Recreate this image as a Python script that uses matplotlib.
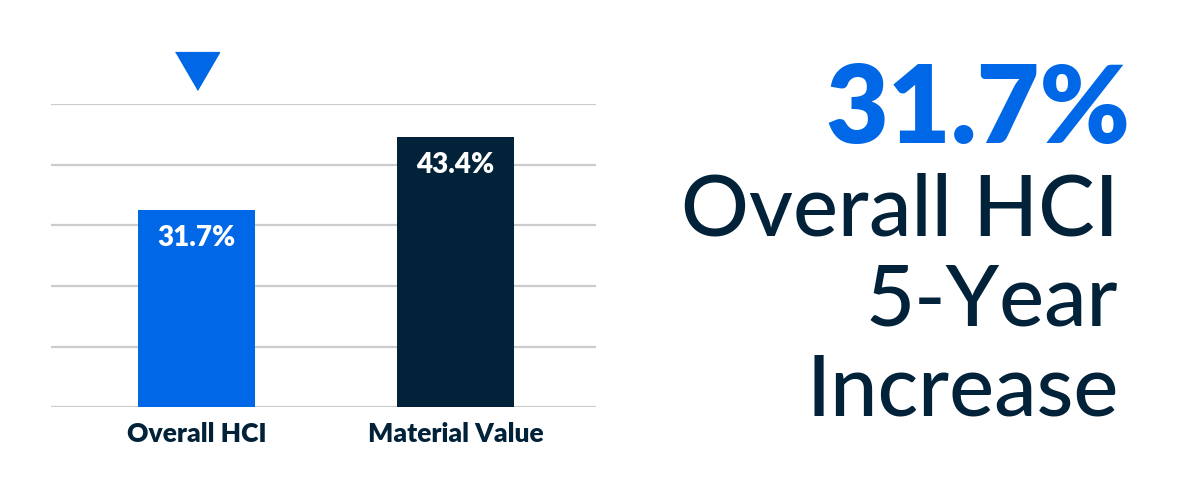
import matplotlib
matplotlib.use("Agg")
import matplotlib.pyplot as plt
import numpy as np

BLUE = "#0068E6"
NAVY = "#02223A"
GRID = "#CCCCCC"

categories = ["Overall HCI", "Material Value"]
values = [31.7, 43.4]
value_labels = ["31.7%", "43.4%"]
bar_colors = [BLUE, NAVY]

headline = "31.7%"
caption_lines = ["Overall HCI", "5-Year", "Increase"]

GRID_STEP = 9.75
N_GRID = 6

plt.rcParams["font.family"] = ["Lato", "DejaVu Sans"]

fig = plt.figure(figsize=(12, 5), dpi=100)
ax = fig.add_axes([0.0425, 0.1854, 0.454, 0.607])

x = np.arange(len(categories))
ax.bar(x, values, width=0.452, color=bar_colors, zorder=3)

ticks = np.arange(N_GRID) * GRID_STEP
ax.set_ylim(0, ticks[-1])
ax.set_xlim(-0.562, 1.542)
ax.set_yticks(ticks)
ax.yaxis.grid(True, color=GRID, linewidth=1.6, zorder=0)
ax.tick_params(axis="y", left=False, labelleft=False)
ax.tick_params(axis="x", bottom=False, pad=7)
ax.set_xticks(x)
ax.set_xticklabels(categories, fontsize=19, fontweight="heavy", color=NAVY)
for s in ax.spines.values():
    s.set_visible(False)

for xi, v, lab in zip(x, values, value_labels):
    ax.annotate(lab, (xi, v), xytext=(0, -11), textcoords="offset points",
                ha="center", va="top", fontsize=20, fontweight="heavy",
                color="white", zorder=4)

# pointer above the highlighted bar
tri = [(-1, 0.86), (1, 0.86), (0, -0.86)]
ax.plot([x[0]], [ticks[-1] + 5.3], marker=tri, markersize=31.7, color=BLUE,
        linestyle="none", clip_on=False)

fig.text(0.942, 0.715, headline, ha="right", va="baseline", fontsize=78,
         fontweight="heavy", color=BLUE)
for i, line in enumerate(caption_lines):
    fig.text(0.932, 0.530 - i * 0.180, line, ha="right", va="baseline",
             fontsize=61, fontweight="medium", color=NAVY)

fig.savefig("out.png", dpi=100, facecolor="white")
